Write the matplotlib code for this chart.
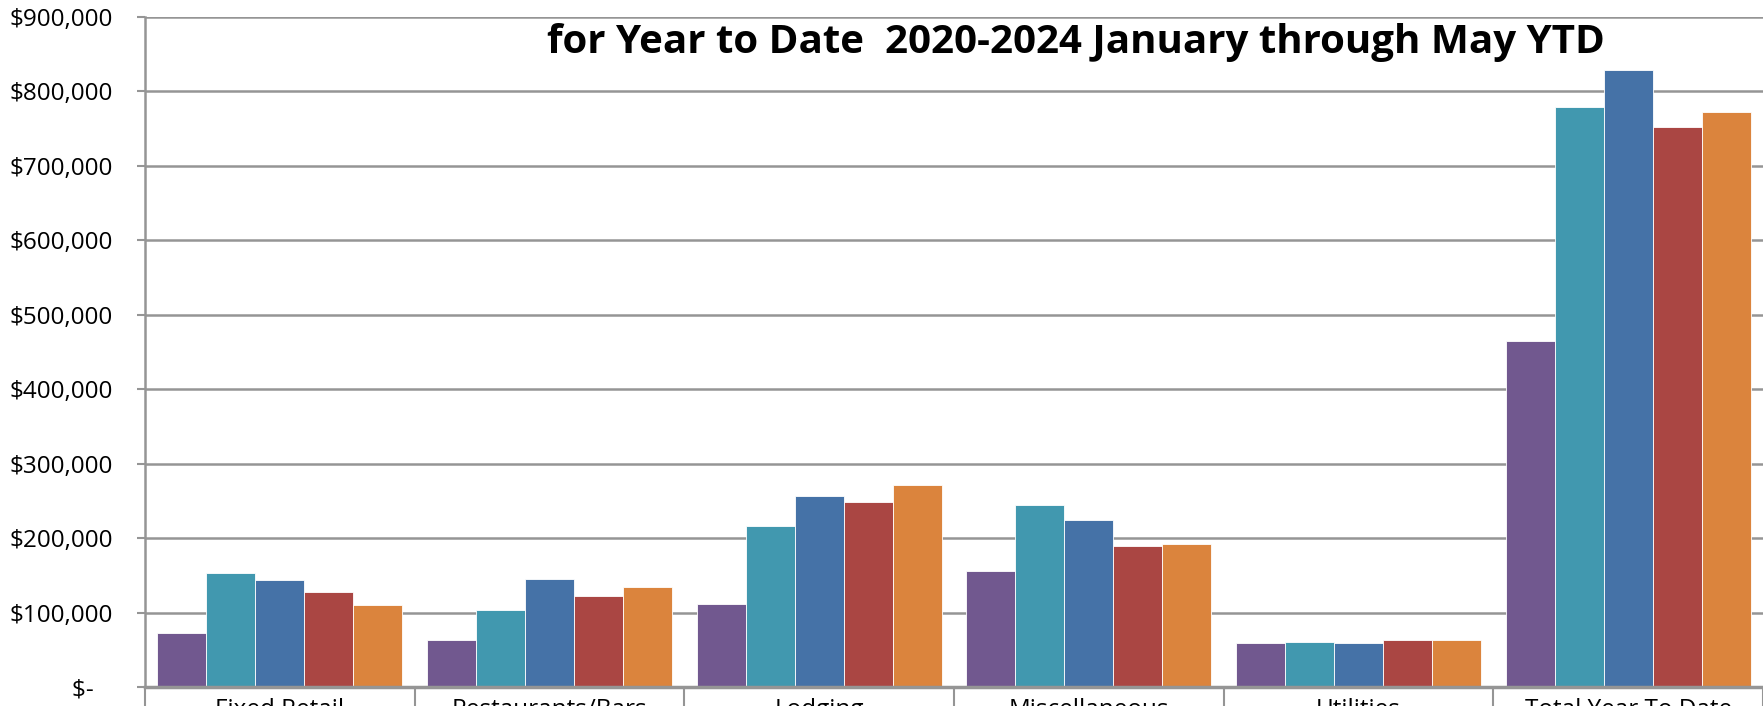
import matplotlib.pyplot as plt
import numpy as np
from matplotlib.ticker import FuncFormatter

categories = ["Fixed Retail", "Restaurants/Bars", "Lodging",
              "Miscellaneous", "Utilities", "Total Year To Date"]
years = ["2020", "2021", "2022", "2023", "2024"]

# collections per category, January through May
ytd_2020 = [72500, 63000, 112000, 156000, 59000, 465000]
ytd_2021 = [152500, 103000, 216000, 245000, 60000, 779000]
ytd_2022 = [143500, 145000, 256000, 224000, 58500, 829000]
ytd_2023 = [127500, 122500, 248000, 189000, 63500, 752000]
ytd_2024 = [110000, 134500, 272000, 192000, 62500, 773000]

series = [ytd_2020, ytd_2021, ytd_2022, ytd_2023, ytd_2024]
colors = ["#71588F", "#4198AF", "#4572A7", "#AA4643", "#DB843D"]

plt.rcParams['font.family'] = ['Open Sans', 'DejaVu Sans']

fig = plt.figure(figsize=(17.63, 7.06), dpi=100)
ax = fig.add_axes([0.0822, 0.0269, 0.9178, 0.9490])

x = np.arange(len(categories))
bar_w = 0.908 / len(series)
for i, (vals, c) in enumerate(zip(series, colors)):
    offs = (i - (len(series) - 1) / 2) * bar_w
    ax.bar(x + offs, vals, width=bar_w, color=c, edgecolor="white",
           linewidth=0.6, label=years[i], zorder=3)

ax.set_xlim(-0.5, len(categories) - 0.5)
ax.set_ylim(0, 900000)
ax.set_yticks(np.arange(0, 900001, 100000))


def money(v, pos):
    if v == 0:
        return "$-   "
    return "${:,.0f}".format(v)


ax.yaxis.set_major_formatter(FuncFormatter(money))
ax.yaxis.grid(True, color="#959595", linewidth=1.8, zorder=0)
ax.tick_params(axis="y", length=6, width=1.5, color="#959595",
               labelsize=17.5, pad=17)

# category labels under the bars, dividers between groups
ax.set_xticks(x)
ax.set_xticklabels(categories, fontsize=17.5)
ax.set_xticks(np.arange(-0.5, len(categories)), minor=True)
ax.tick_params(axis="x", which="major", length=0, pad=8)
ax.tick_params(axis="x", which="minor", length=25, width=1.5, color="#959595")

for side in ["top", "right"]:
    ax.spines[side].set_visible(False)
ax.spines["left"].set_color("#959595")
ax.spines["left"].set_linewidth(1.8)
ax.spines["bottom"].set_color("#959595")
ax.spines["bottom"].set_linewidth(2.5)
ax.spines["bottom"].set_zorder(4)

fig.text(0.6104, 0.925, "for Year to Date  2020-2024 January through May YTD",
         ha="center", va="baseline", fontsize=29, fontweight="bold")

fig.savefig("out.png", dpi=100)
